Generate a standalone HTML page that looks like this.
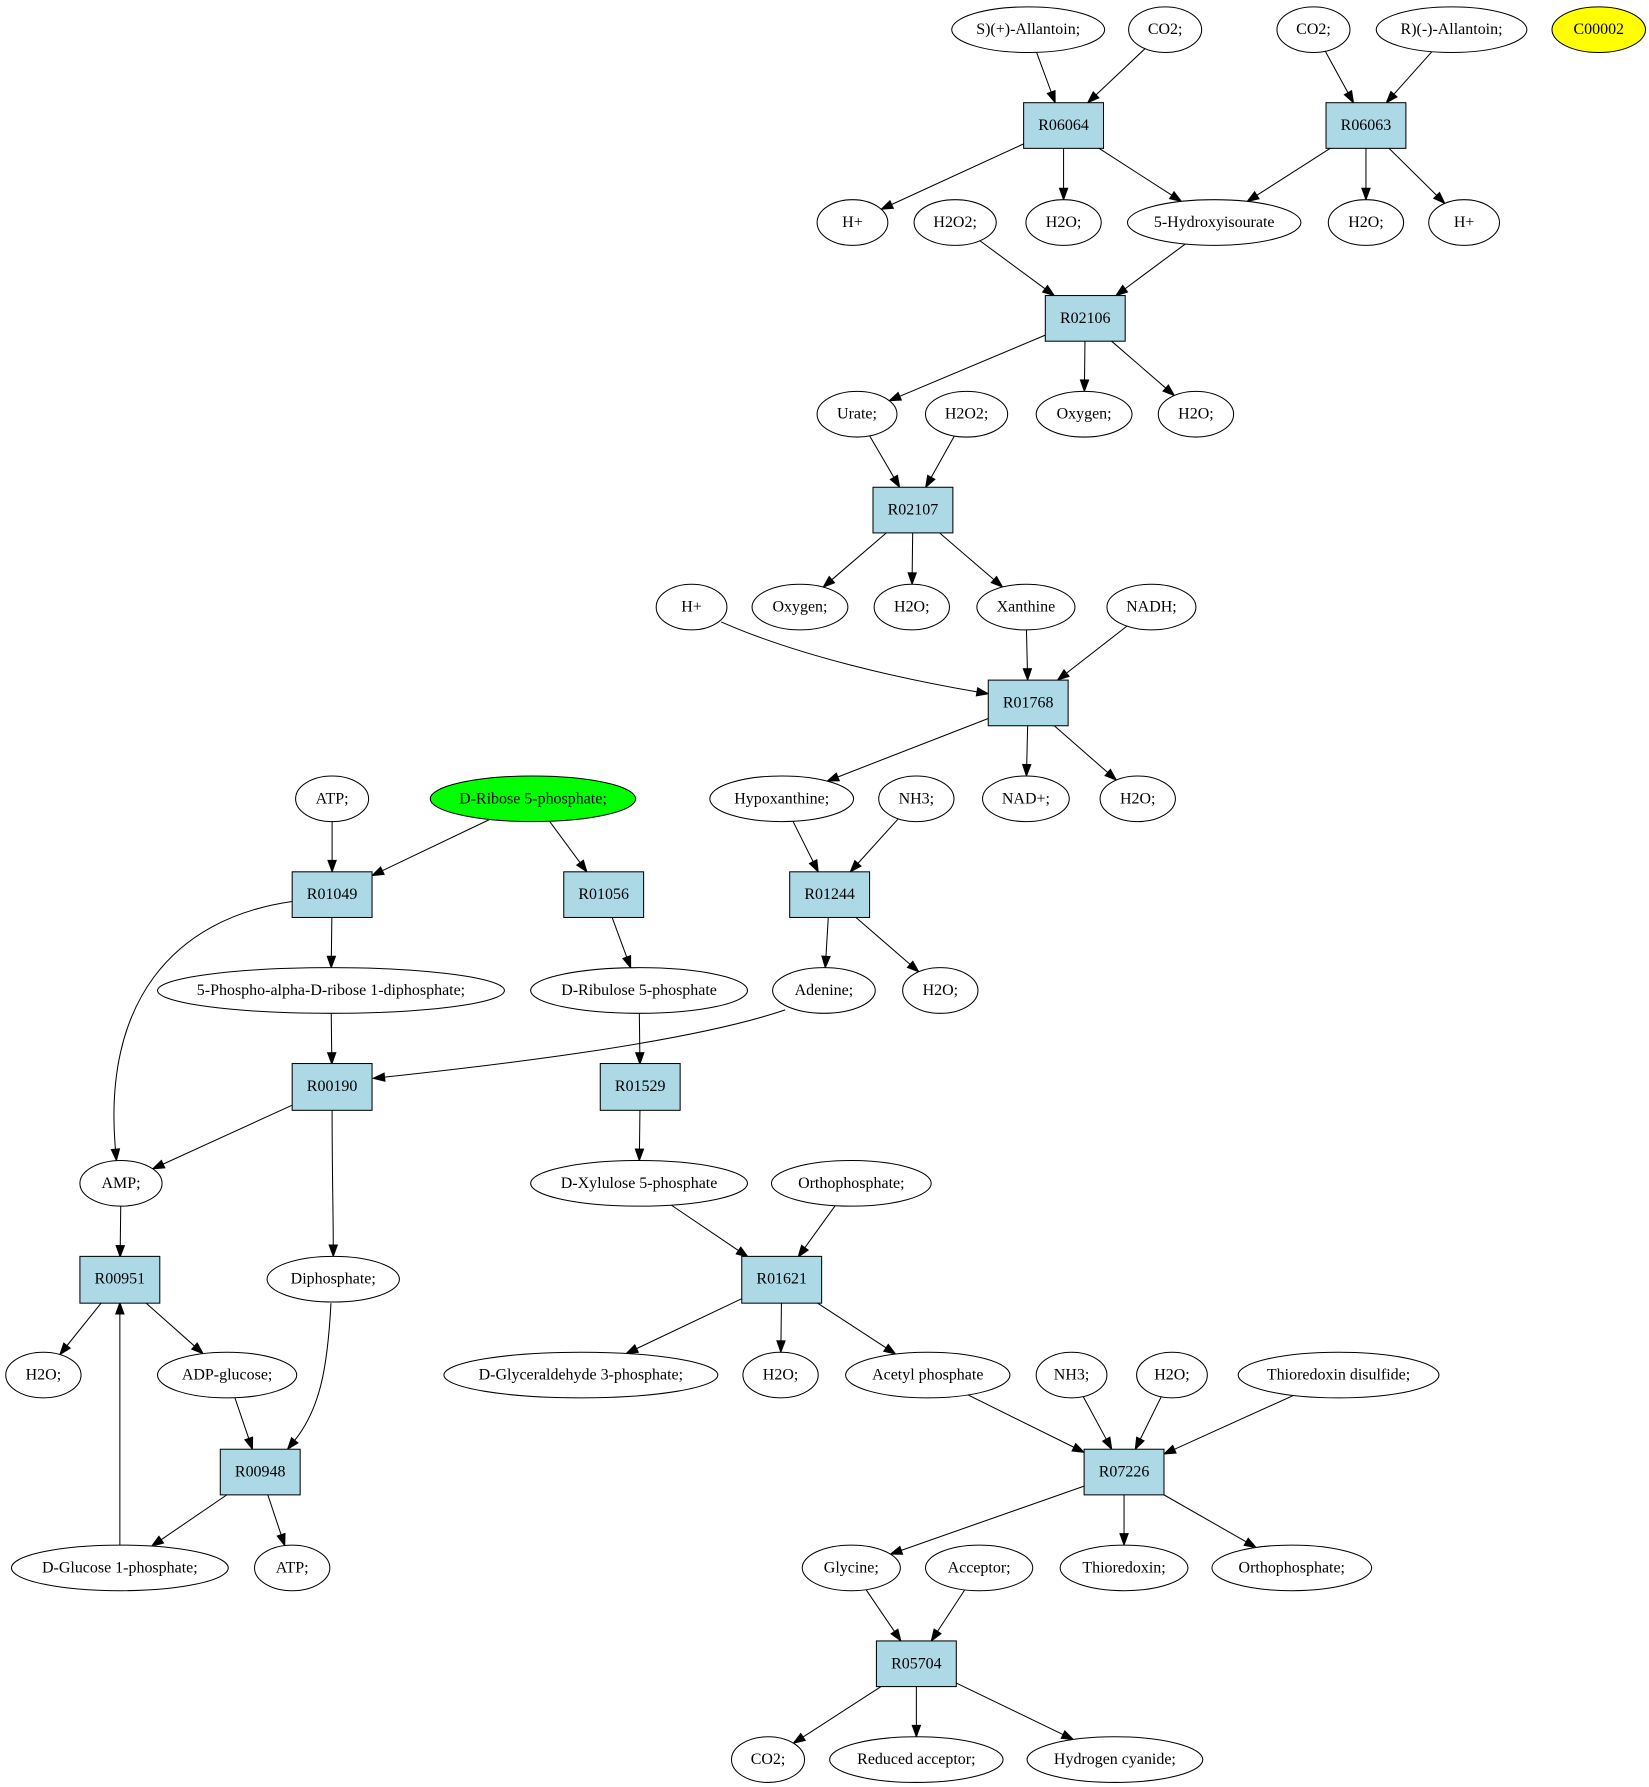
<!DOCTYPE html>
<html><head><meta charset="utf-8"><style>
html,body{margin:0;padding:0;background:#fff;}
svg{display:block;}
text{font-family:"Liberation Serif",serif;font-size:14px;text-anchor:middle;dominant-baseline:central;fill:#000;stroke:none;}
</style></head><body>
<svg id="g" width="1649" height="1787" viewBox="0 0 1445 1566" xmlns="http://www.w3.org/2000/svg">
<rect width="1445" height="1566" fill="#fff"/>
<g id="edges" stroke="#000" stroke-width="0.9" fill="none"></g>
<g id="heads" fill="#000" stroke="#000" stroke-width="0.9"></g>
<g stroke="#000" stroke-width="0.9">
<ellipse cx="901" cy="26" rx="67" ry="20" fill="#fff"/><text stroke="none" x="901" y="26">S)(+)-Allantoin;</text>
<ellipse cx="1021" cy="26" rx="32" ry="20" fill="#fff"/><text stroke="none" x="1021" y="26">CO2;</text>
<ellipse cx="1151" cy="26" rx="32" ry="20" fill="#fff"/><text stroke="none" x="1151" y="26">CO2;</text>
<ellipse cx="1272" cy="26" rx="66" ry="20" fill="#fff"/><text stroke="none" x="1272" y="26">R)(-)-Allantoin;</text>
<ellipse cx="1401" cy="26" rx="41" ry="20" fill="#ffff00"/><text stroke="none" x="1401" y="26">C00002</text>
<rect x="897" y="90" width="70" height="40" fill="#add8e6"/><text stroke="none" x="932" y="110">R06064</text>
<rect x="1162" y="90" width="70" height="40" fill="#add8e6"/><text stroke="none" x="1197" y="110">R06063</text>
<ellipse cx="747" cy="195" rx="31" ry="20" fill="#fff"/><text stroke="none" x="747" y="195">H+</text>
<ellipse cx="837" cy="195" rx="36" ry="20" fill="#fff"/><text stroke="none" x="837" y="195">H2O2;</text>
<ellipse cx="932" cy="195" rx="33" ry="20" fill="#fff"/><text stroke="none" x="932" y="195">H2O;</text>
<ellipse cx="1064" cy="195" rx="76" ry="20" fill="#fff"/><text stroke="none" x="1064" y="195">5-Hydroxyisourate</text>
<ellipse cx="1197" cy="195" rx="33" ry="20" fill="#fff"/><text stroke="none" x="1197" y="195">H2O;</text>
<ellipse cx="1283" cy="195" rx="31" ry="20" fill="#fff"/><text stroke="none" x="1283" y="195">H+</text>
<rect x="916" y="259" width="70" height="40" fill="#add8e6"/><text stroke="none" x="951" y="279">R02106</text>
<ellipse cx="751" cy="363" rx="35" ry="20" fill="#fff"/><text stroke="none" x="751" y="363">Urate;</text>
<ellipse cx="847" cy="363" rx="36" ry="20" fill="#fff"/><text stroke="none" x="847" y="363">H2O2;</text>
<ellipse cx="950" cy="363" rx="42" ry="20" fill="#fff"/><text stroke="none" x="950" y="363">Oxygen;</text>
<ellipse cx="1048" cy="363" rx="33" ry="20" fill="#fff"/><text stroke="none" x="1048" y="363">H2O;</text>
<rect x="765" y="427" width="70" height="40" fill="#add8e6"/><text stroke="none" x="800" y="447">R02107</text>
<ellipse cx="606" cy="532" rx="31" ry="20" fill="#fff"/><text stroke="none" x="606" y="532">H+</text>
<ellipse cx="701" cy="532" rx="42" ry="20" fill="#fff"/><text stroke="none" x="701" y="532">Oxygen;</text>
<ellipse cx="799" cy="532" rx="33" ry="20" fill="#fff"/><text stroke="none" x="799" y="532">H2O;</text>
<ellipse cx="899" cy="532" rx="43" ry="20" fill="#fff"/><text stroke="none" x="899" y="532">Xanthine</text>
<ellipse cx="1009" cy="532" rx="39" ry="20" fill="#fff"/><text stroke="none" x="1009" y="532">NADH;</text>
<rect x="866" y="596" width="70" height="40" fill="#add8e6"/><text stroke="none" x="901" y="616">R01768</text>
<ellipse cx="291" cy="700" rx="32" ry="20" fill="#fff"/><text stroke="none" x="291" y="700">ATP;</text>
<ellipse cx="467" cy="700" rx="90" ry="20" fill="#00ff00"/><text stroke="none" x="467" y="700">D-Ribose 5-phosphate;</text>
<ellipse cx="685" cy="700" rx="63" ry="20" fill="#fff"/><text stroke="none" x="685" y="700">Hypoxanthine;</text>
<ellipse cx="803" cy="700" rx="33" ry="20" fill="#fff"/><text stroke="none" x="803" y="700">NH3;</text>
<ellipse cx="899" cy="700" rx="38" ry="20" fill="#fff"/><text stroke="none" x="899" y="700">NAD+;</text>
<ellipse cx="997" cy="700" rx="33" ry="20" fill="#fff"/><text stroke="none" x="997" y="700">H2O;</text>
<rect x="256" y="764" width="70" height="40" fill="#add8e6"/><text stroke="none" x="291" y="784">R01049</text>
<rect x="494" y="764" width="70" height="40" fill="#add8e6"/><text stroke="none" x="529" y="784">R01056</text>
<rect x="692" y="764" width="70" height="40" fill="#add8e6"/><text stroke="none" x="727" y="784">R01244</text>
<ellipse cx="290" cy="868" rx="152" ry="20" fill="#fff"/><text stroke="none" x="290" y="868">5-Phospho-alpha-D-ribose 1-diphosphate;</text>
<ellipse cx="560" cy="868" rx="95" ry="20" fill="#fff"/><text stroke="none" x="560" y="868">D-Ribulose 5-phosphate</text>
<ellipse cx="722" cy="868" rx="45" ry="20" fill="#fff"/><text stroke="none" x="722" y="868">Adenine;</text>
<ellipse cx="824" cy="868" rx="33" ry="20" fill="#fff"/><text stroke="none" x="824" y="868">H2O;</text>
<rect x="256" y="932" width="70" height="41" fill="#add8e6"/><text stroke="none" x="291" y="952">R00190</text>
<rect x="526" y="932" width="70" height="41" fill="#add8e6"/><text stroke="none" x="561" y="952">R01529</text>
<ellipse cx="106" cy="1037" rx="36" ry="20" fill="#fff"/><text stroke="none" x="106" y="1037">AMP;</text>
<ellipse cx="560" cy="1037" rx="95" ry="20" fill="#fff"/><text stroke="none" x="560" y="1037">D-Xylulose 5-phosphate</text>
<ellipse cx="746" cy="1037" rx="70" ry="20" fill="#fff"/><text stroke="none" x="746" y="1037">Orthophosphate;</text>
<rect x="70" y="1101" width="70" height="41" fill="#add8e6"/><text stroke="none" x="105" y="1121">R00951</text>
<ellipse cx="292" cy="1121" rx="58" ry="20" fill="#fff"/><text stroke="none" x="292" y="1121">Diphosphate;</text>
<rect x="650" y="1101" width="70" height="41" fill="#add8e6"/><text stroke="none" x="685" y="1121">R01621</text>
<ellipse cx="38" cy="1205" rx="33" ry="20" fill="#fff"/><text stroke="none" x="38" y="1205">H2O;</text>
<ellipse cx="199" cy="1205" rx="61" ry="20" fill="#fff"/><text stroke="none" x="199" y="1205">ADP-glucose;</text>
<ellipse cx="509" cy="1205" rx="120" ry="20" fill="#fff"/><text stroke="none" x="509" y="1205">D-Glyceraldehyde 3-phosphate;</text>
<ellipse cx="684" cy="1205" rx="33" ry="20" fill="#fff"/><text stroke="none" x="684" y="1205">H2O;</text>
<ellipse cx="813" cy="1205" rx="72" ry="20" fill="#fff"/><text stroke="none" x="813" y="1205">Acetyl phosphate</text>
<ellipse cx="939" cy="1205" rx="31" ry="20" fill="#fff"/><text stroke="none" x="939" y="1205">NH3;</text>
<ellipse cx="1027" cy="1205" rx="31" ry="20" fill="#fff"/><text stroke="none" x="1027" y="1205">H2O;</text>
<ellipse cx="1173" cy="1205" rx="88" ry="20" fill="#fff"/><text stroke="none" x="1173" y="1205">Thioredoxin disulfide;</text>
<rect x="193" y="1270" width="70" height="40" fill="#add8e6"/><text stroke="none" x="228" y="1290">R00948</text>
<rect x="950" y="1270" width="70" height="40" fill="#add8e6"/><text stroke="none" x="985" y="1290">R07226</text>
<ellipse cx="105" cy="1374" rx="95" ry="20" fill="#fff"/><text stroke="none" x="105" y="1374">D-Glucose 1-phosphate;</text>
<ellipse cx="256" cy="1374" rx="33" ry="20" fill="#fff"/><text stroke="none" x="256" y="1374">ATP;</text>
<ellipse cx="746" cy="1374" rx="43" ry="20" fill="#fff"/><text stroke="none" x="746" y="1374">Glycine;</text>
<ellipse cx="858" cy="1374" rx="47" ry="20" fill="#fff"/><text stroke="none" x="858" y="1374">Acceptor;</text>
<ellipse cx="985" cy="1374" rx="56" ry="20" fill="#fff"/><text stroke="none" x="985" y="1374">Thioredoxin;</text>
<ellipse cx="1132" cy="1374" rx="70" ry="20" fill="#fff"/><text stroke="none" x="1132" y="1374">Orthophosphate;</text>
<rect x="768" y="1438" width="70" height="40" fill="#add8e6"/><text stroke="none" x="803" y="1458">R05704</text>
<ellipse cx="673" cy="1542" rx="32" ry="20" fill="#fff"/><text stroke="none" x="673" y="1542">CO2;</text>
<ellipse cx="803" cy="1542" rx="76" ry="20" fill="#fff"/><text stroke="none" x="803" y="1542">Reduced acceptor;</text>
<ellipse cx="977" cy="1542" rx="77" ry="20" fill="#fff"/><text stroke="none" x="977" y="1542">Hydrogen cyanide;</text>
</g>
</svg>
<script>
var N={
SA:['e',901,26,67],CO2a:['e',1021,26,32],CO2b:['e',1151,26,32],RA:['e',1272,26,66],
R06064:['b',932,110],R06063:['b',1197,110],
Hpa:['e',747,195,31],H2O2a:['e',837,195,36],H2Oa:['e',932,195,33],HI:['e',1064,195,76],H2Ob:['e',1197,195,33],Hpb:['e',1283,195,31],
R02106:['b',951,279],
Ur:['e',751,363,35],H2O2b:['e',847,363,36],Ox1:['e',950,363,42],H2Oc:['e',1048,363,33],
R02107:['b',800,447],
Hpc:['e',606,532,31],Ox2:['e',701,532,42],H2Od:['e',799,532,33],Xa:['e',899,532,43],NADH:['e',1009,532,39],
R01768:['b',901,616],
ATPa:['e',291,700,32],DR:['e',467,700,90],Hy:['e',685,700,63],NH3a:['e',803,700,33],NAD:['e',899,700,38],H2Oe:['e',997,700,33],
R01049:['b',291,784],R01056:['b',529,784],R01244:['b',727,784],
PR:['e',290,868,152],Ru:['e',560,868,95],Ad:['e',722,868,45],H2Of:['e',824,868,33],
R00190:['b',291,952.5],R01529:['b',561,952.5],
AMP:['e',106,1037,36],Xy:['e',560,1037,95],Or1:['e',746,1037,70],
R00951:['b',105,1121.5],Di:['e',292,1121,58],R01621:['b',685,1121.5],
H2Og:['e',38,1205,33],AG:['e',199,1205,61],GAP:['e',509,1205,120],H2Oh:['e',684,1205,33],AcP:['e',813,1205,72],NH3b:['e',939,1205,31],H2Oi:['e',1027,1205,31],TD:['e',1173,1205,88],
R00948:['b',228,1290],R07226:['b',985,1290],
G1P:['e',105,1374,95],ATPb:['e',256,1374,33],Gly:['e',746,1374,43],Acc:['e',858,1374,47],Trx:['e',985,1374,56],Or2:['e',1132,1374,70],
R05704:['b',803,1458],
CO2c:['e',673,1542,32],Red:['e',803,1542,76],HCN:['e',977,1542,77]};
var E=[['SA','R06064'],['CO2a','R06064'],['CO2b','R06063'],['RA','R06063'],
['R06064','Hpa'],['R06064','H2Oa'],['R06064','HI'],['R06063','HI'],['R06063','H2Ob'],['R06063','Hpb'],
['H2O2a','R02106'],['HI','R02106'],['R02106','Ur'],['R02106','Ox1'],['R02106','H2Oc'],
['Ur','R02107'],['H2O2b','R02107'],['R02107','Ox2'],['R02107','H2Od'],['R02107','Xa'],
['Xa','R01768'],['NADH','R01768'],['R01768','Hy'],['R01768','NAD'],['R01768','H2Oe'],
['Hy','R01244'],['NH3a','R01244'],['R01244','Ad'],['R01244','H2Of'],
['ATPa','R01049'],['DR','R01049'],['DR','R01056'],['R01049','PR'],['R01056','Ru'],
['PR','R00190'],['Ru','R01529'],['R00190','AMP'],['R01529','Xy'],
['AMP','R00951'],['Xy','R01621'],['Or1','R01621'],['R00951','H2Og'],['R00951','AG'],
['R01621','GAP'],['R01621','H2Oh'],['R01621','AcP'],['AG','R00948'],
['AcP','R07226'],['NH3b','R07226'],['H2Oi','R07226'],['TD','R07226'],
['R00948','G1P'],['R00948','ATPb'],['G1P','R00951'],
['R07226','Gly'],['R07226','Trx'],['R07226','Or2'],['Gly','R05704'],['Acc','R05704'],
['R05704','CO2c'],['R05704','Red'],['R05704','HCN']];
function clip(n,dx,dy){var t;
 if(n[0]=='e'){t=1/Math.sqrt((dx/n[3])*(dx/n[3])+(dy/20)*(dy/20));}
 else{t=Math.min(35/Math.abs(dx||1e-9),20/Math.abs(dy||1e-9));}
 return [n[1]+dx*t,n[2]+dy*t];}
var eg=document.getElementById('edges'),hg=document.getElementById('heads'),NS='http://www.w3.org/2000/svg';
function head(tx,ty,ux,uy){var L=10,W=3.6,bx=tx-ux*L,by=ty-uy*L;
 var p=document.createElementNS(NS,'polygon');
 p.setAttribute('points',tx+','+ty+' '+(bx-uy*W)+','+(by+ux*W)+' '+(bx+uy*W)+','+(by-ux*W));hg.appendChild(p);}
function path(d){var p=document.createElementNS(NS,'path');p.setAttribute('d',d);eg.appendChild(p);}
E.forEach(function(e){var a=N[e[0]],b=N[e[1]];var dx=b[1]-a[1],dy=b[2]-a[2];
 var s=clip(a,dx,dy),t=clip(b,-dx,-dy);var L=Math.hypot(t[0]-s[0],t[1]-s[1]);var ux=(t[0]-s[0])/L,uy=(t[1]-s[1])/L;
 path('M'+s[0]+','+s[1]+'L'+(t[0]-ux*10)+','+(t[1]-uy*10));head(t[0],t[1],ux,uy);});
function curve(x0,y0,c1x,c1y,c2x,c2y,x1,y1){var dx=x1-c2x,dy=y1-c2y,L=Math.hypot(dx,dy),ux=dx/L,uy=dy/L;
 path('M'+x0+','+y0+'C'+c1x+','+c1y+' '+c2x+','+c2y+' '+(x1-ux*10)+','+(y1-uy*10));head(x1,y1,ux,uy);}
curve(256,790,150,805,90,880,102,1017);
curve(632,545,700,575,790,595,866,608);
curve(688,885,600,915,420,935,327,945);
curve(291,973,291,1030,292,1060,292,1101);
curve(290,1142,287,1200,280,1235,252,1270);
</script>
</body></html>
